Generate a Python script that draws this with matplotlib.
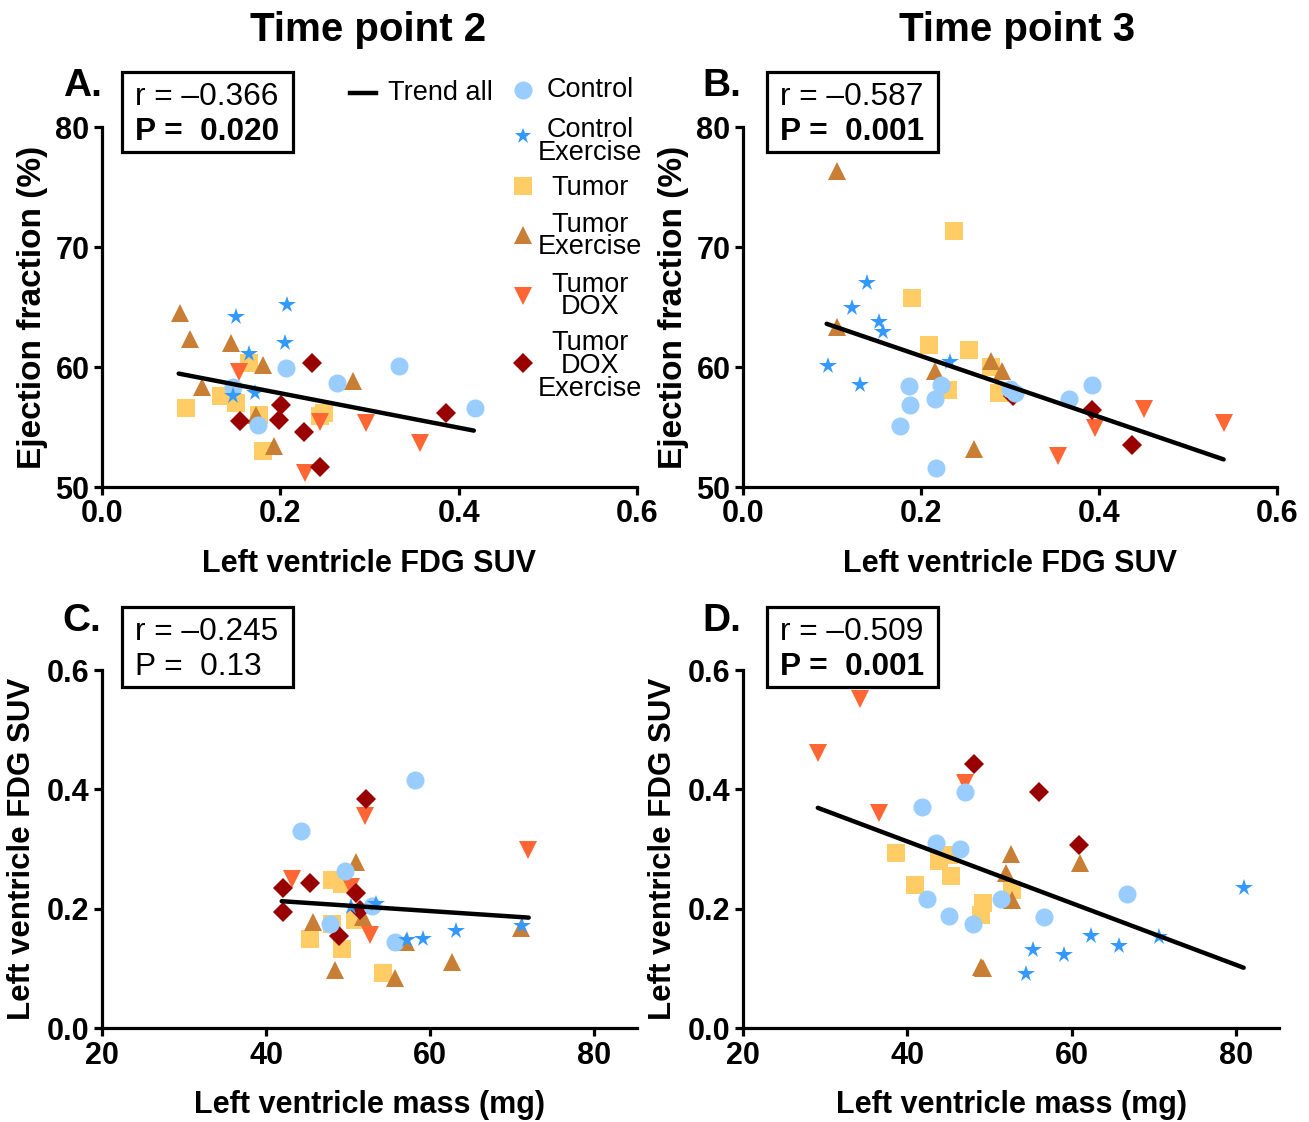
import matplotlib
matplotlib.use('Agg')
import matplotlib.pyplot as plt
from matplotlib.lines import Line2D
from matplotlib.patches import Rectangle

plt.rcParams['font.family'] = ['Liberation Sans', 'DejaVu Sans']

# group styling
group_names = ['Control', 'Control\nExercise', 'Tumor', 'Tumor\nExercise', 'Tumor\nDOX', 'Tumor\nDOX\nExercise']
group_markers = ['o', '*', 's', '^', 'v', 'D']
group_colors = ['#99CCFF', '#3399FF', '#FFCC66', '#C87F35', '#FF6633', '#990000']
group_sizes = [13, 13, 12.5, 13, 12.7, 10.5]
group_z = [7, 8, 3, 4, 5, 6]

# ---- A: time point 2, FDG SUV vs ejection fraction
a_ctrl_x = [0.206, 0.264, 0.333, 0.418, 0.175, 0.147]
a_ctrl_y = [59.9, 58.7, 60.1, 56.6, 55.2, 58.3]
a_cex_x = [0.150, 0.208, 0.205, 0.165, 0.147, 0.172]
a_cex_y = [64.2, 65.2, 62.0, 61.1, 57.6, 57.8]
a_tum_x = [0.094, 0.133, 0.150, 0.165, 0.176, 0.181, 0.245, 0.249]
a_tum_y = [56.6, 57.6, 57.0, 60.3, 56.0, 53.0, 55.9, 56.2]
a_tex_x = [0.087, 0.099, 0.145, 0.181, 0.281, 0.112, 0.173, 0.193]
a_tex_y = [64.5, 62.3, 62.0, 60.2, 58.8, 58.3, 56.0, 53.4]
a_dox_x = [0.154, 0.245, 0.296, 0.357, 0.228]
a_dox_y = [59.6, 55.4, 55.3, 53.7, 51.2]
a_dex_x = [0.236, 0.201, 0.198, 0.155, 0.227, 0.386, 0.245]
a_dex_y = [60.3, 56.8, 55.6, 55.5, 54.6, 56.2, 51.7]
a_trend_x = [0.086, 0.417]
a_trend_y = [59.45, 54.7]

# ---- B: time point 3, FDG SUV vs ejection fraction
b_ctrl_x = [0.187, 0.223, 0.188, 0.216, 0.176, 0.217, 0.300, 0.306, 0.366, 0.392]
b_ctrl_y = [58.4, 58.5, 56.85, 57.3, 55.1, 51.6, 58.2, 57.8, 57.3, 58.5]
b_cex_x = [0.139, 0.123, 0.153, 0.157, 0.095, 0.132, 0.233]
b_cex_y = [67.0, 64.9, 63.75, 62.9, 60.1, 58.5, 60.4]
b_tum_x = [0.237, 0.190, 0.209, 0.254, 0.230, 0.279, 0.288]
b_tum_y = [71.3, 65.75, 61.8, 61.45, 58.1, 60.0, 57.8]
b_tex_x = [0.106, 0.106, 0.216, 0.279, 0.291, 0.259]
b_tex_y = [76.3, 63.3, 59.7, 60.5, 59.7, 53.2]
b_dox_x = [0.354, 0.396, 0.450, 0.540]
b_dox_y = [52.6, 54.9, 56.5, 55.3]
b_dex_x = [0.392, 0.437, 0.303]
b_dex_y = [56.4, 53.5, 57.6]
b_trend_x = [0.094, 0.540]
b_trend_y = [63.6, 52.3]

# ---- C: time point 2, LV mass vs FDG SUV
c_ctrl_x = [58.2, 44.3, 49.6, 52.9, 47.8, 55.7]
c_ctrl_y = [0.415, 0.331, 0.263, 0.205, 0.174, 0.144]
c_cex_x = [50.4, 53.4, 57.2, 59.1, 63.2, 71.2]
c_cex_y = [0.203, 0.208, 0.148, 0.149, 0.163, 0.171]
c_tum_x = [48.0, 49.2, 50.8, 48.0, 45.3, 49.3, 54.2]
c_tum_y = [0.248, 0.241, 0.181, 0.175, 0.149, 0.132, 0.093]
c_tex_x = [50.9, 45.7, 51.8, 48.4, 55.7, 62.6, 57.0, 71.1]
c_tex_y = [0.278, 0.178, 0.186, 0.097, 0.083, 0.111, 0.144, 0.167]
c_dox_x = [52.1, 43.1, 50.4, 52.7, 71.9]
c_dox_y = [0.356, 0.250, 0.236, 0.156, 0.298]
c_dex_x = [52.2, 42.0, 45.3, 42.0, 51.0, 51.5, 48.9]
c_dex_y = [0.384, 0.235, 0.243, 0.195, 0.226, 0.198, 0.154]
c_trend_x = [41.9, 72.0]
c_trend_y = [0.2125, 0.185]

# ---- D: time point 3, LV mass vs FDG SUV
d_ctrl_x = [47.0, 41.8, 43.45, 46.4, 42.4, 45.0, 48.0, 51.4, 56.6, 66.7]
d_ctrl_y = [0.396, 0.370, 0.310, 0.300, 0.217, 0.187, 0.175, 0.216, 0.186, 0.224]
d_cex_x = [55.3, 59.1, 62.3, 65.7, 70.6, 54.4, 80.9]
d_cex_y = [0.131, 0.122, 0.155, 0.138, 0.153, 0.091, 0.234]
d_tum_x = [38.6, 43.8, 45.05, 45.3, 40.9, 49.2, 49.0, 52.7]
d_tum_y = [0.293, 0.280, 0.290, 0.255, 0.239, 0.210, 0.189, 0.231]
d_tex_x = [52.6, 52.05, 52.7, 61.0, 49.15, 48.9]
d_tex_y = [0.291, 0.260, 0.214, 0.277, 0.100, 0.102]
d_dox_x = [34.2, 29.1, 36.6, 47.0]
d_dox_y = [0.551, 0.461, 0.360, 0.410]
d_dex_x = [48.15, 55.95, 60.85]
d_dex_y = [0.443, 0.396, 0.307]
d_trend_x = [29.1, 80.9]
d_trend_y = [0.369, 0.101]

W, H = 1309, 1122


def fx(x):
    return x / W


def fy(y):
    return 1 - y / H


def style_axes(ax):
    for s in ['top', 'right']:
        ax.spines[s].set_visible(False)
    for s in ['left', 'bottom']:
        ax.spines[s].set_linewidth(2.3)
    ax.tick_params(axis='both', direction='out', length=6, width=2.3,
                   labelsize=22, pad=3)
    for lab in ax.get_xticklabels() + ax.get_yticklabels():
        lab.set_fontweight('bold')


def draw_panel(ax, xs, ys, tx, ty):
    for i in range(6):
        ax.plot(xs[i], ys[i], linestyle='none', marker=group_markers[i],
                color=group_colors[i], markersize=group_sizes[i],
                markeredgewidth=0, zorder=group_z[i], clip_on=False)
    ax.plot(tx, ty, color='black', linewidth=3.2, zorder=10,
            solid_capstyle='round')


fig = plt.figure(figsize=(W / 100, H / 100), dpi=100)

axA = fig.add_axes([fx(102), fy(487), (637 - 102) / W, (487 - 127) / H])
axB = fig.add_axes([fx(743), fy(487), (1277 - 743) / W, (487 - 127) / H])
axC = fig.add_axes([fx(102), fy(1028), (637 - 102) / W, (1028 - 670) / H])
axD = fig.add_axes([fx(743), fy(1028), (1279 - 743) / W, (1028 - 670) / H])

draw_panel(axA, [a_ctrl_x, a_cex_x, a_tum_x, a_tex_x, a_dox_x, a_dex_x],
           [a_ctrl_y, a_cex_y, a_tum_y, a_tex_y, a_dox_y, a_dex_y], a_trend_x, a_trend_y)
draw_panel(axB, [b_ctrl_x, b_cex_x, b_tum_x, b_tex_x, b_dox_x, b_dex_x],
           [b_ctrl_y, b_cex_y, b_tum_y, b_tex_y, b_dox_y, b_dex_y], b_trend_x, b_trend_y)
draw_panel(axC, [c_ctrl_x, c_cex_x, c_tum_x, c_tex_x, c_dox_x, c_dex_x],
           [c_ctrl_y, c_cex_y, c_tum_y, c_tex_y, c_dox_y, c_dex_y], c_trend_x, c_trend_y)
draw_panel(axD, [d_ctrl_x, d_cex_x, d_tum_x, d_tex_x, d_dox_x, d_dex_x],
           [d_ctrl_y, d_cex_y, d_tum_y, d_tex_y, d_dox_y, d_dex_y], d_trend_x, d_trend_y)

for ax in (axA, axB):
    ax.set_xlim(0, 0.6)
    ax.set_ylim(50, 80)
    ax.set_xticks([0.0, 0.2, 0.4, 0.6])
    ax.set_xticklabels(['0.0', '0.2', '0.4', '0.6'])
    ax.set_yticks([50, 60, 70, 80])
    ax.set_xlabel('Left ventricle FDG SUV', fontsize=22, fontweight='bold', labelpad=14)
    ax.set_ylabel('Ejection fraction (%)', fontsize=24, fontweight='bold', labelpad=5)
    style_axes(ax)

for ax in (axC, axD):
    ax.set_xlim(20, 85.2)
    ax.set_ylim(0, 0.6)
    ax.set_xticks([20, 40, 60, 80])
    ax.set_yticks([0.0, 0.2, 0.4, 0.6])
    ax.set_yticklabels(['0.0', '0.2', '0.4', '0.6'])
    ax.set_xlabel('Left ventricle mass (mg)', fontsize=22, fontweight='bold', labelpad=14)
    ax.set_ylabel('Left ventricle FDG SUV', fontsize=22.5, fontweight='bold', labelpad=7)
    style_axes(ax)

# column titles and panel letters
fig.text(fx(368), fy(30), 'Time point 2', fontsize=29, fontweight='bold', ha='center', va='center')
fig.text(fx(1017), fy(30), 'Time point 3', fontsize=29, fontweight='bold', ha='center', va='center')
for lx, ly, letter in [(82, 86, 'A.'), (722, 86, 'B.'), (82, 621, 'C.'), (722, 621, 'D.')]:
    fig.text(fx(lx), fy(ly), letter, fontsize=28, fontweight='bold', ha='center', va='center')

# stat boxes
stats = [(122, 72, 'r = \u20130.366', 'P =  0.020', True),
         (767, 72, 'r = \u20130.587', 'P =  0.001', True),
         (122, 607, 'r = \u20130.245', 'P =  0.13', False),
         (767, 607, 'r = \u20130.509', 'P =  0.001', True)]
for bx, by, rtxt, ptxt, bold in stats:
    fig.add_artist(Rectangle((fx(bx), fy(by + 80)), 171 / W, 80 / H,
                             transform=fig.transFigure, fill=False,
                             edgecolor='black', linewidth=2.3))
    fig.text(fx(bx + 13), fy(by + 25), rtxt, fontsize=22.8, ha='left', va='center')
    fig.text(fx(bx + 13), fy(by + 60), ptxt, fontsize=22.8, ha='left', va='center',
             fontweight='bold' if bold else 'normal')

# legend drawn by hand
fig.add_artist(Line2D([fx(350), fx(376)], [fy(93), fy(93)], color='black',
                      linewidth=3.2, transform=fig.transFigure))
fig.text(fx(388), fy(93), 'Trend all', fontsize=19.5, ha='left', va='center')
leg_marker_y = [90, 136, 186, 235, 296, 363]
leg_text_y = [90, 141, 188, 236, 296, 366]
leg_sizes = [13, 12, 12.5, 13, 12.7, 10.5]
for i in range(6):
    fig.add_artist(Line2D([fx(523)], [fy(leg_marker_y[i])], marker=group_markers[i],
                          color=group_colors[i], markersize=leg_sizes[i],
                          markeredgewidth=0, linestyle='none',
                          transform=fig.transFigure))
    fig.text(fx(590), fy(leg_text_y[i]), group_names[i], fontsize=19.5,
             ha='center', va='center', multialignment='center', linespacing=0.85)

fig.savefig('out.png', dpi=100)
